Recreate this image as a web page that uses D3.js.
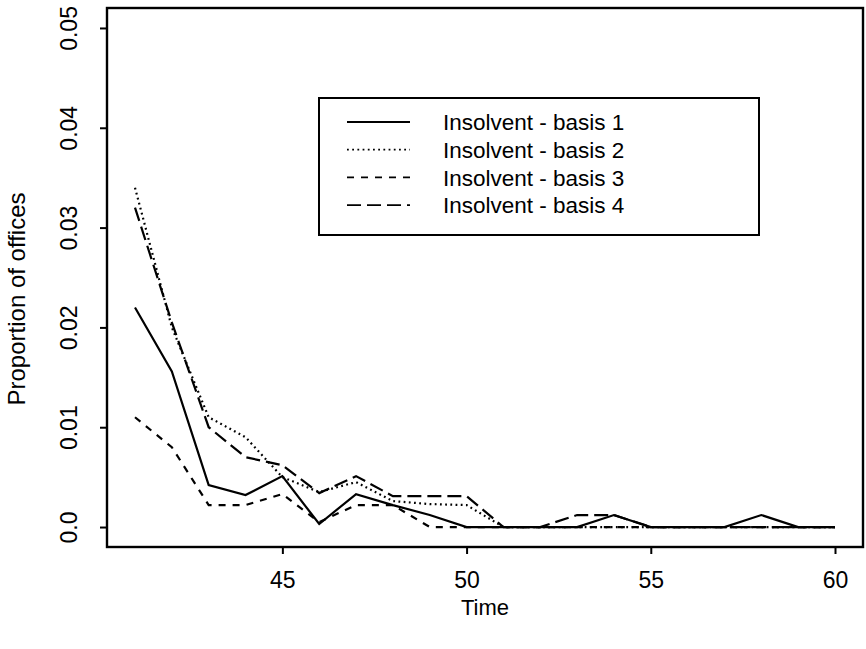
<!DOCTYPE html>
<html>
<head>
<meta charset="utf-8">
<script src="https://cdn.jsdelivr.net/npm/d3@7"></script>
<style>
  body { margin: 0; background: #fff; }
  svg { font-family: "Liberation Sans", Arial, sans-serif; }
</style>
</head>
<body>
<div id="chart"></div>
<script>
// Chart data
var years = [41, 42, 43, 44, 45, 46, 47, 48, 49, 50, 51, 52, 53, 54, 55, 56, 57, 58, 59, 60];
var basis1 = [0.022, 0.0156, 0.0042, 0.0032, 0.0051, 0.0003, 0.0033, 0.0022, 0.0012, 0, 0, 0, 0, 0.0012, 0, 0, 0, 0.0012, 0, 0];
var basis2 = [0.034, 0.020, 0.011, 0.009, 0.005, 0.0035, 0.0045, 0.0026, 0.0023, 0.0022, 0, 0, 0, 0, 0, 0, 0, 0, 0, 0];
var basis3 = [0.011, 0.008, 0.0022, 0.0022, 0.0033, 0.0005, 0.0022, 0.0022, 0, 0, 0, 0, 0, 0, 0, 0, 0, 0, 0, 0];
var basis4 = [0.032, 0.0205, 0.010, 0.007, 0.0062, 0.0034, 0.0051, 0.0031, 0.0031, 0.0031, 0, 0, 0.0012, 0.0012, 0, 0, 0, 0, 0, 0];
var seriesNames = ["Insolvent - basis 1", "Insolvent - basis 2", "Insolvent - basis 3", "Insolvent - basis 4"];
var xTicks = [45, 50, 55, 60];
var yTicks = [0, 0.01, 0.02, 0.03, 0.04, 0.05];

// Chart Params
var svgWidth = 866;
var svgHeight = 649;
var margin = { top: 8, right: 3, bottom: 102, left: 107 };
var width = svgWidth - margin.left - margin.right;
var height = svgHeight - margin.top - margin.bottom;

// dash patterns: solid, dotted, dashed, long dashed
var dashes = [null, "1.8,3.4", "7,7", "14,6"];

var svg = d3.select("#chart")
  .append("svg")
  .attr("width", svgWidth)
  .attr("height", svgHeight);

var chartGroup = svg.append("g")
  .attr("transform", `translate(${margin.left}, ${margin.top})`);

// R style 4% padding on both scales
var xScale = d3.scaleLinear()
  .domain([41 - 19 * 0.04, 60 + 19 * 0.04])
  .range([0, width]);

var yScale = d3.scaleLinear()
  .domain([-0.002, 0.052])
  .range([height, 0]);

var xAxis = d3.axisBottom(xScale)
  .tickValues(xTicks)
  .tickSize(7)
  .tickPadding(18)
  .tickFormat(d3.format("d"));

var yAxis = d3.axisLeft(yScale)
  .tickValues(yTicks)
  .tickSize(7)
  .tickFormat(d => d === 0 ? "0.0" : d3.format(".2f")(d));

var xAxisG = chartGroup.append("g")
  .attr("transform", `translate(0, ${height})`)
  .call(xAxis);
xAxisG.select(".domain").remove();

var yAxisG = chartGroup.append("g")
  .call(yAxis);
yAxisG.select(".domain").remove();

svg.selectAll(".tick line").attr("stroke", "#000").attr("stroke-width", 2);
xAxisG.selectAll("text")
  .style("font-size", "23px")
  .attr("fill", "#000");

// rotated y tick labels like R's default
yAxisG.selectAll(".tick text")
  .style("font-size", "23px")
  .attr("fill", "#000")
  .attr("x", null)
  .attr("dy", null)
  .attr("text-anchor", "middle")
  .attr("transform", "translate(-30, 0) rotate(-90)");

// plot frame
chartGroup.append("rect")
  .attr("x", 0)
  .attr("y", 0)
  .attr("width", width)
  .attr("height", height)
  .attr("fill", "none")
  .attr("stroke", "#000")
  .attr("stroke-width", 2.4);

// lines
var allSeries = [basis1, basis2, basis3, basis4];
var line = d3.line()
  .x((d, i) => xScale(years[i]))
  .y(d => yScale(d));

chartGroup.selectAll(".series")
  .data(allSeries)
  .enter()
  .append("path")
  .attr("class", "series")
  .attr("d", d => line(d))
  .attr("fill", "none")
  .attr("stroke", "#000")
  .attr("stroke-width", 2.2)
  .attr("stroke-dasharray", (d, i) => dashes[i]);

// axis titles
svg.append("text")
  .attr("x", margin.left + width / 2)
  .attr("y", 615)
  .attr("text-anchor", "middle")
  .style("font-size", "22px")
  .text("Time");

svg.append("text")
  .attr("transform", "translate(25, 299) rotate(-90)")
  .attr("text-anchor", "middle")
  .style("font-size", "24px")
  .text("Proportion of offices");

// legend
var legend = svg.append("g")
  .attr("transform", "translate(319, 98)");

legend.append("rect")
  .attr("width", 440)
  .attr("height", 137)
  .attr("fill", "#fff")
  .attr("stroke", "#000")
  .attr("stroke-width", 2);

var legendRows = legend.selectAll(".row")
  .data(seriesNames)
  .enter()
  .append("g")
  .attr("class", "row")
  .attr("transform", (d, i) => `translate(0, ${24 + i * 27.7})`);

legendRows.append("line")
  .attr("x1", 28)
  .attr("x2", 91)
  .attr("stroke", "#000")
  .attr("stroke-width", 1.8)
  .attr("stroke-dasharray", (d, i) => dashes[i]);

legendRows.append("text")
  .attr("x", 124)
  .attr("dy", "0.36em")
  .style("font-size", "22.5px")
  .text(d => d);
</script>
</body>
</html>
